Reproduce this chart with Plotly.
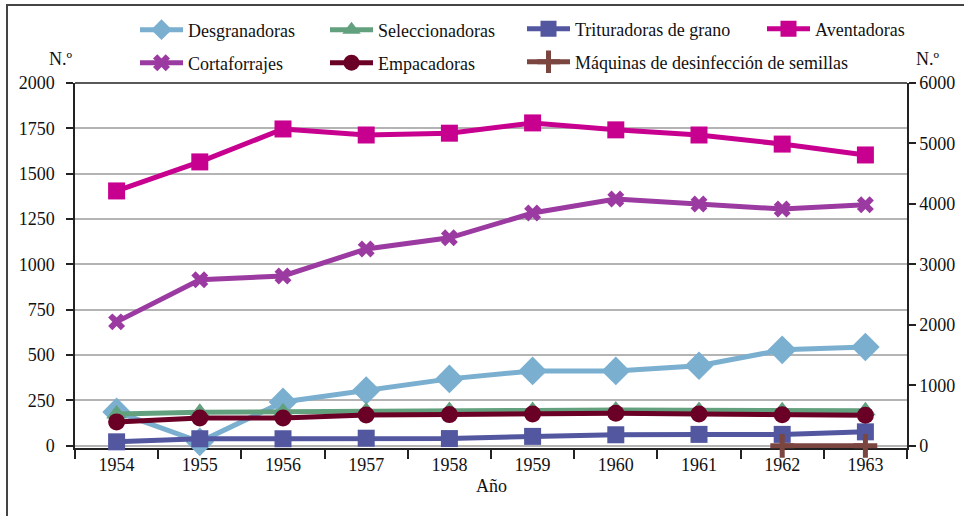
import plotly.graph_objects as go

# Years on the category axis
years = ["1954", "1955", "1956", "1957", "1958", "1959", "1960", "1961", "1962", "1963"]

# Left axis series (N.º)
desgranadoras = [187, 22, 242, 305, 369, 413, 413, 441, 529, 545]
seleccionadoras = [175, 185, 188, 192, 195, 195, 197, 195, 193, 193]
trituradoras = [22, 39, 39, 42, 40, 52, 61, 63, 63, 77]
empacadoras = [132, 154, 154, 170, 172, 176, 180, 176, 171, 168]

# Right axis series (N.º)
aventadoras = [4215, 4695, 5240, 5140, 5170, 5340, 5225, 5140, 4990, 4810]
cortaforrajes = [2050, 2745, 2810, 3255, 3440, 3850, 4080, 4000, 3915, 3985]
desinfeccion_years = ["1962", "1963"]
desinfeccion = [0, 0]

FONT = "Times New Roman, Liberation Serif, Tinos, serif"
W, H = 964, 516
# the value axes start a hair below zero so that a series lying on zero stays visible
Y1_MIN, Y2_MIN = -12, -36
L, R, T, B = 75, 57, 83, 68
PW, PH = W - L - R, H - T - B

fig = go.Figure()

def add(name, x, y, color, symbol, size, legend, yaxis="y", width=5, mline=0):
    fig.add_trace(go.Scatter(
        x=x, y=y, name=name, mode="lines+markers", yaxis=yaxis,
        line=dict(color=color, width=width),
        marker=dict(symbol=symbol, size=size, color=color,
                    line=dict(color=color, width=mline)),
        legend=legend, cliponaxis=False,
    ))

add("Desgranadoras", years, desgranadoras, "#7AAFD0", "diamond", 22, "legend")
add("Seleccionadoras", years, seleccionadoras, "#62A07E", "triangle-up", 18, "legend2")
add("Trituradoras de grano", years, trituradoras, "#5257A0", "square", 17, "legend3")
add("Aventadoras", years, aventadoras, "#C8008F", "square", 17, "legend4", yaxis="y2")
add("Cortaforrajes", years, cortaforrajes, "#9B3AA0", "x", 15, "legend5", yaxis="y2")
add("Empacadoras", years, empacadoras, "#6A0025", "circle", 17, "legend6")
add("Máquinas de desinfección de semillas", desinfeccion_years, desinfeccion,
    "#7B4540", "cross-thin", 17, "legend7", yaxis="y2", mline=5)

# one legend box per entry, laid out in two rows
legend_pos = {
    "legend": (135, 30), "legend2": (325, 30), "legend3": (522, 29), "legend4": (762, 29),
    "legend5": (135, 63), "legend6": (325, 63), "legend7": (522, 62),
}
legends = {}
for key, (px, py) in legend_pos.items():
    legends[key] = dict(
        x=px / W, y=1 - py / H, xref="container", yref="container",
        xanchor="left", yanchor="middle", orientation="h",
        font=dict(family=FONT, size=18, color="#111"),
        bgcolor="rgba(0,0,0,0)", itemwidth=43, borderwidth=0,
    )

axis_font = dict(family=FONT, size=18, color="#111")

fig.update_layout(
    width=W, height=H,
    margin=dict(l=L, r=R, t=T, b=B, autoexpand=False),
    paper_bgcolor="white", plot_bgcolor="white",
    showlegend=True,
    xaxis=dict(
        type="category", range=[-0.5, 9.5], tickson="boundaries",
        ticks="outside", ticklen=9, tickwidth=1.5, tickcolor="#222",
        showline=True, linecolor="#222", linewidth=1.5, layer="below traces",
        showgrid=False, tickfont=axis_font, zeroline=False,
    ),
    yaxis=dict(
        range=[Y1_MIN, 2000], tickvals=[0, 250, 500, 750, 1000, 1250, 1500, 1750, 2000],
        ticks="outside", ticklen=7, tickwidth=1.5, tickcolor="#222",
        ticklabelstandoff=8, layer="below traces",
        showline=True, linecolor="#222", linewidth=1.5,
        showgrid=True, gridcolor="#B4B4B4", gridwidth=1.5,
        zeroline=False, tickfont=axis_font,
    ),
    yaxis2=dict(
        range=[Y2_MIN, 6000], tickvals=[0, 1000, 2000, 3000, 4000, 5000, 6000],
        overlaying="y", side="right",
        ticks="outside", ticklen=7, tickwidth=1.5, tickcolor="#222",
        showline=True, linecolor="#222", linewidth=1.5, layer="below traces",
        showgrid=False, zeroline=False, tickfont=axis_font,
    ),
    **legends,
)

def px_x(px):
    return (px - L) / PW

def px_y(py):
    return ((H - B) - py) / PH

fig.add_annotation(text="N.º", xref="paper", yref="paper", x=px_x(47), y=px_y(47),
                   showarrow=False, font=axis_font)
fig.add_annotation(text="N.º", xref="paper", yref="paper", x=px_x(941), y=px_y(47),
                   showarrow=False, font=axis_font)
fig.add_annotation(text="Año", xref="paper", yref="paper", x=px_x(491), y=px_y(498),
                   showarrow=False, font=axis_font)

# dark top edge of the plotting area
fig.add_shape(type="line", xref="paper", yref="paper", x0=0, x1=1, y0=1, y1=1,
              line=dict(color="#222", width=1.5), layer="below")

# outer frame
fig.add_shape(type="rect", xref="paper", yref="paper",
              x0=px_x(7), x1=px_x(990), y0=px_y(540), y1=px_y(5),
              line=dict(color="#444", width=2), layer="below")

fig.write_html("out.html")
